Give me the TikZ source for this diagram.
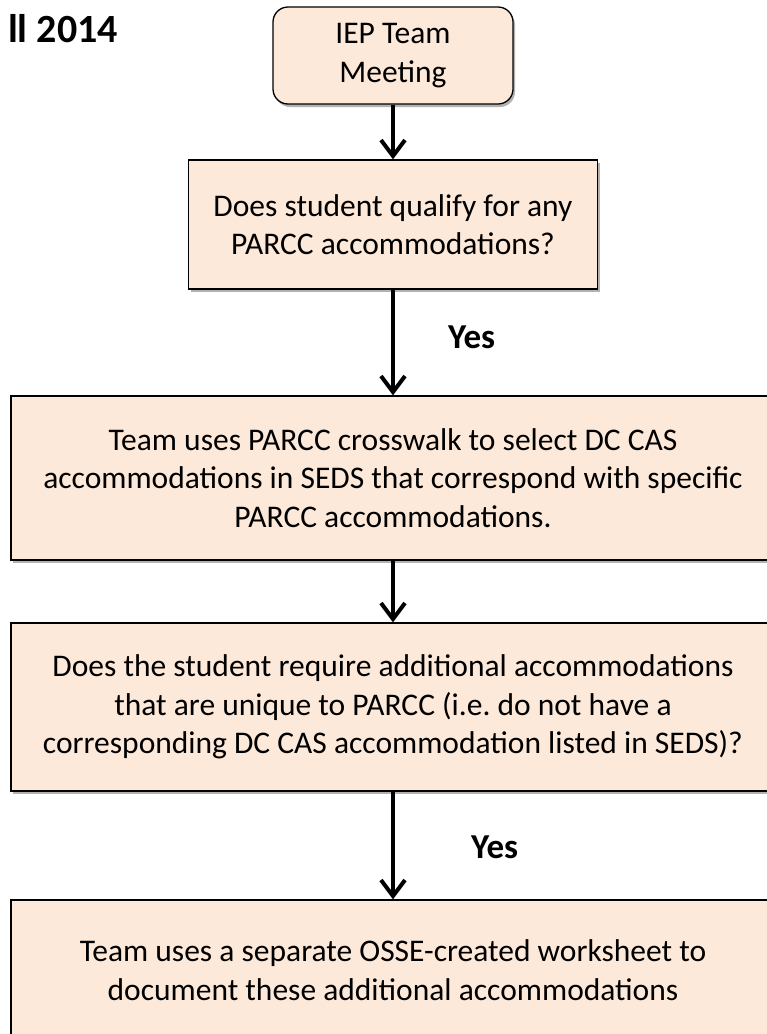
\documentclass[tikz,border=0pt]{standalone}
\usepackage{fontspec}
\setmainfont{Carlito}
\usepackage{tikz}
\usetikzlibrary{arrows.meta,positioning,shadows}
\definecolor{ieppeach}{RGB}{253,233,217}

\begin{document}
\begin{tikzpicture}[x=1pt, y=-1pt, >={Straight Barb[length=16pt,width=24pt]},
  stepbox/.style={draw=black, line width=1.3pt, fill=ieppeach, align=center,
    font=\fontsize{31.5pt}{38.4pt}\selectfont, inner sep=0pt,
    drop shadow={shadow xshift=2pt, shadow yshift=-3pt, opacity=0.3, fill=black}},
  flow/.style={->, line width=4pt},
  yeslbl/.style={font=\fontsize{35pt}{40pt}\selectfont\bfseries, anchor=base west, inner sep=0pt}]
  \useasboundingbox (0,0) rectangle (767,1034);
  \clip (0,0) rectangle (767,1034);
  % title, cut off at the left
  \node[font=\fontsize{40pt}{46pt}\selectfont\bfseries, anchor=base east, inner sep=0pt] (term) at (118,42) {ll 2014};
  % steps
  \node[stepbox, rounded corners=15pt, minimum width=240pt, minimum height=97pt] (meet) at (393,55.5) {IEP Team\\Meeting};
  \node[stepbox, minimum width=409pt, minimum height=129pt] (qual) at (393,224.5) {Does student qualify for any\\PARCC accommodations?};
  \node[stepbox, minimum width=764pt, minimum height=164pt] (xwalk) at (393,478) {Team uses PARCC crosswalk to select DC CAS\\accommodations in SEDS that correspond with specific\\PARCC accommodations.};
  \node[stepbox, minimum width=764pt, minimum height=168pt] (extra) at (393,707) {Does the student require additional accommodations\\that are unique to PARCC (i.e.\ do not have a\\corresponding DC CAS accommodation listed in SEDS)?};
  \node[stepbox, minimum width=764pt, minimum height=140pt] (sheet) at (393,970) {Team uses a separate OSSE-created worksheet to\\document these additional accommodations};
  % arrows
  \draw[flow] (meet.south) -- (qual.north);
  \draw[flow] (qual.south) -- (xwalk.north);
  \draw[flow] (xwalk.south) -- (extra.north);
  \draw[flow] (extra.south) -- (sheet.north);
  \node[yeslbl] (yes1) at (448,348) {Yes};
  \node[yeslbl] (yes2) at (471,858) {Yes};
\end{tikzpicture}
\end{document}
